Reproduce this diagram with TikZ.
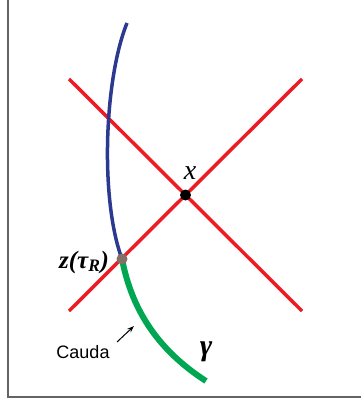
\documentclass[tikz,border=0pt]{standalone}
\usepackage{fontspec}
\setmainfont{Liberation Serif}
\setsansfont{Liberation Sans}
\usepackage{xcolor}
\definecolor{lightred}{RGB}{237,28,36}
\definecolor{worldblue}{RGB}{43,57,144}
\definecolor{caudagreen}{RGB}{0,166,81}
\definecolor{framegray}{RGB}{100,100,100}
\definecolor{dotgray}{RGB}{130,112,102}
\usetikzlibrary{arrows.meta}
\tikzset{
  cone/.style    ={draw=lightred,line width=3.5pt},
  worldline/.style={draw=worldblue,line width=3.5pt},
  cauda/.style   ={draw=caudagreen,line width=6pt},
  event/.style   ={circle,inner sep=0pt,minimum size=11pt},
  lbl/.style     ={inner sep=1pt,font=\fontsize{28}{30}\selectfont\itshape},
}
\begin{document}
\begin{tikzpicture}[x=1pt,y=-1pt]
  \useasboundingbox (0,0) rectangle (361,403);
  \draw[framegray,line width=1.5pt] (8,0) -- (8,397) -- (361,397);
  % light cone of x
  \coordinate (ul) at (69,79);  \coordinate (ur) at (302,79);
  \coordinate (ll) at (69,311); \coordinate (lr) at (302,311);
  \draw[cone] (ul) -- (lr);
  \draw[cone] (ll) -- (ur);
  \node[event] (x) at (185.5,195) {};
  \node[event] (z) at (122,259) {};
  % world line and its tail
  \coordinate (top) at (127,23);
  \coordinate (end) at (206,381);
  \draw[worldline] (top) .. controls (104,80) and (100,200) .. (z.center);
  \draw[cauda] (z.center) .. controls (130,300) and (150,345) .. (end);
  \fill (x) circle (5.5pt);
  \fill[dotgray] (z) circle (5.5pt);
  % labels
  \node[lbl] (xl) at (190,173) {x};
  \node[lbl,font=\fontsize{25}{27}\selectfont\bfseries\itshape] (zl) at (84,262) {z(τ\textsubscript{R})};
  \node[lbl,font=\fontsize{30}{32}\selectfont\bfseries\itshape] (gl) at (206,352) {γ};
  \node[font=\fontsize{18}{20}\selectfont\sffamily] (cl) at (83,352) {Cauda};
  \coordinate (tail) at (117,342);
  \coordinate (tip) at (134,326);
  \draw[-{Stealth[length=7pt,width=5pt]},line width=1pt] (tail) -- (tip);
\end{tikzpicture}
\end{document}
